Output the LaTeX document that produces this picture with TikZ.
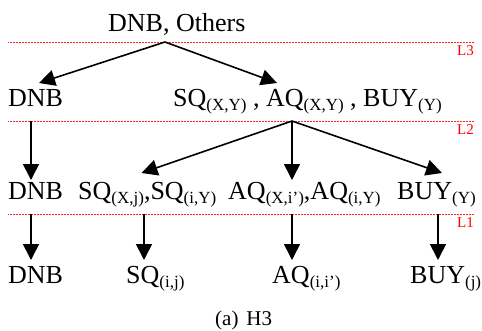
\documentclass[tikz,border=0pt]{standalone}
\usepackage{fontspec}
\setmainfont{Liberation Serif}
\usetikzlibrary{arrows.meta}
\newcommand\sbx[1]{\raisebox{-4.5pt}{\fontsize{17}{17}\selectfont #1}}
\tikzset{
  lbl/.style={anchor=base west, inner sep=0pt, font=\fontsize{26}{26}\selectfont},
  lvl/.style={red!85, line width=0.9pt, dash pattern=on 0.8pt off 0.7pt},
  lvltxt/.style={anchor=base east, inner sep=0pt, text=red, font=\fontsize{15}{15}\selectfont},
  arr/.style={line width=1.6pt, -{Triangle[length=16pt,width=16pt]}},
}
\begin{document}
\begin{tikzpicture}[x=1pt,y=-1pt]
\useasboundingbox (0,0) rectangle (482,330);
% levels
\coordinate (l3a) at (8,42); \coordinate (l3b) at (474,42);
\coordinate (l2a) at (8,121); \coordinate (l2b) at (474,121);
\coordinate (l1a) at (8,214); \coordinate (l1b) at (474,214);
\draw[lvl] (l3a) -- (l3b);
\draw[lvl] (l2a) -- (l2b);
\draw[lvl] (l1a) -- (l1b);
\node[lvltxt] (L3) at (474,55) {L3};
\node[lvltxt] (L2) at (474,134) {L2};
\node[lvltxt] (L1) at (474,227) {L1};
% texts
\node[lbl] (top) at (108,31) {DNB, Others};
\node[lbl] (a1) at (8,106) {DNB};
\node[lbl] (a2) at (173,106) {SQ\sbx{(X,Y)} , AQ\sbx{(X,Y)} , BUY\sbx{(Y)}};
\node[lbl] (b1) at (8,199) {DNB};
\node[lbl] (b2) at (78,199) {SQ\sbx{(X,j)},SQ\sbx{(i,Y)}};
\node[lbl] (b3) at (228,199) {AQ\sbx{(X,i’)},AQ\sbx{(i,Y)}};
\node[lbl] (b4) at (397,199) {BUY\sbx{(Y)}};
\node[lbl] (c1) at (8,283) {DNB};
\node[lbl] (c2) at (126,283) {SQ\sbx{(i,j)}};
\node[lbl] (c3) at (272,283) {AQ\sbx{(i,i’)}};
\node[lbl] (c4) at (410,283) {BUY\sbx{(j)}};
\node[anchor=base west, inner sep=0pt, font=\fontsize{21}{21}\selectfont] (cap) at (215,325) {(a)\hspace{8pt}H3};
% arrow points
\coordinate (s3) at (165,42);
\coordinate (ta1) at (39,83);
\coordinate (ta2) at (277,83);
\coordinate (sa1) at (31,121);
\coordinate (sa2) at (292,121);
\coordinate (tb1) at (31,180);
\coordinate (tb2) at (141.5,173);
\coordinate (tb3) at (292,180);
\coordinate (tb4) at (442,173);
\coordinate (sb1) at (31,214);
\coordinate (sb2) at (144,214);
\coordinate (sb3) at (292,214);
\coordinate (sb4) at (438,214);
\coordinate (tc1) at (31,260);
\coordinate (tc2) at (144,260);
\coordinate (tc3) at (292,260);
\coordinate (tc4) at (438,260);
\draw[arr] (s3) -- (ta1);
\draw[arr] (s3) -- (ta2);
\draw[arr] (sa1) -- (tb1);
\draw[arr] (sa2) -- (tb2);
\draw[arr] (sa2) -- (tb3);
\draw[arr] (sa2) -- (tb4);
\draw[arr] (sb1) -- (tc1);
\draw[arr] (sb2) -- (tc2);
\draw[arr] (sb3) -- (tc3);
\draw[arr] (sb4) -- (tc4);
\end{tikzpicture}
\end{document}
